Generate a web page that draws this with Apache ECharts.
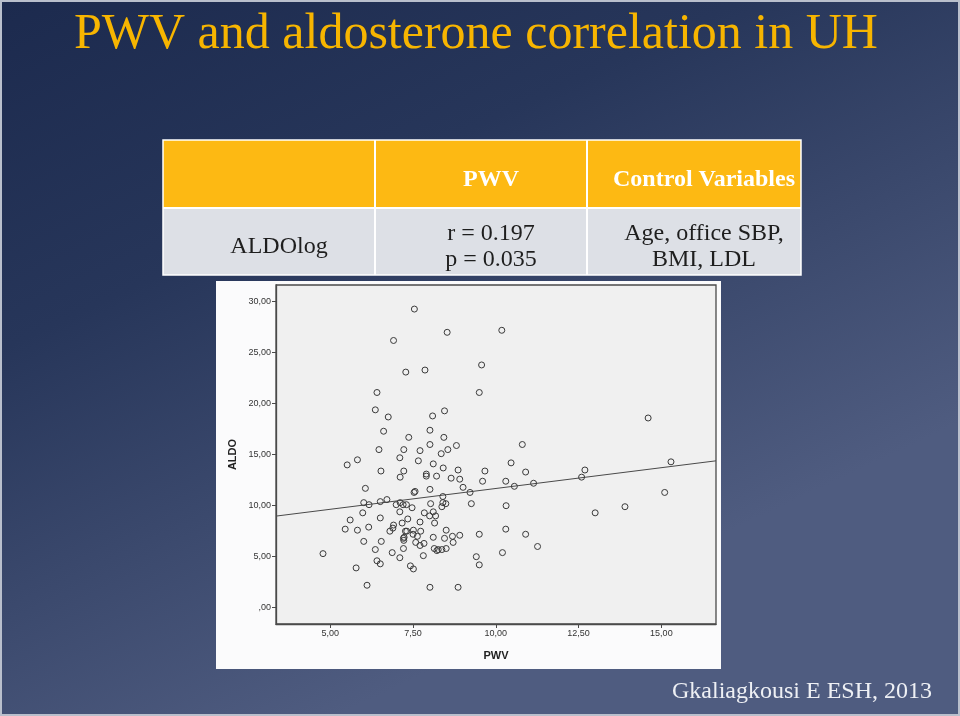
<!DOCTYPE html>
<html>
<head>
<meta charset="utf-8">
<script src="https://cdn.jsdelivr.net/npm/echarts@6/dist/echarts.min.js"></script>
<style>
html,body{margin:0;padding:0;background:#24345a;}
#chart{width:960px;height:716px;}
</style>
</head>
<body>
<div id="chart"></div>
<script>
// ---- data ----
var pwv = [7.54,8.53,10.18,6.91,7.28,7.86,9.57,6.41,9.50,6.36,6.75,8.09,8.45,14.60,8.01,6.61,7.37,8.43,8.01,8.81,
  10.80,6.47,7.22,7.71,8.55,8.35,5.51,5.82,7.10,7.66,8.11,10.46,15.29,6.53,7.22,8.41,8.86,9.67,10.90,12.69,
  7.11,7.90,7.90,8.21,8.65,8.91,9.60,10.30,12.59,11.14,10.56,9.01,6.06,8.01,7.53,7.56,9.22,15.10,8.40,6.01,
  6.17,6.51,6.71,6.99,7.11,7.20,7.30,8.03,8.40,8.49,9.26,10.31,8.37,13.90,7.47,5.98,7.10,7.84,8.11,8.00,
  8.18,13.00,5.60,6.51,7.34,7.17,7.71,8.15,6.91,6.89,6.80,5.45,5.82,6.16,7.27,7.31,7.51,7.73,8.50,10.30,
  7.23,7.21,7.50,7.63,8.11,8.45,8.69,8.91,9.50,10.90,7.22,6.01,6.54,7.58,7.71,7.83,8.71,11.26,6.36,7.21,
  8.14,8.22,8.26,8.37,8.50,4.78,6.87,7.81,7.10,9.41,10.20,6.41,6.51,9.50,7.42,7.51,5.78,6.11,8.01,8.86];
var aldo = [29.28,27.0,27.2,26.2,23.1,23.3,23.8,21.1,21.1,19.4,18.7,18.8,19.3,18.6,17.4,17.3,16.7,16.7,16.0,15.9,
  16.0,15.5,15.5,15.4,15.5,15.1,14.0,14.5,14.7,14.4,14.1,14.2,14.3,13.4,13.4,13.7,13.5,13.4,13.3,13.5,
  12.8,13.1,12.9,12.9,12.7,12.6,12.4,12.4,12.8,12.2,11.9,11.8,11.7,11.6,11.3,11.4,11.3,11.3,10.9,10.3,
  10.1,10.4,10.6,10.1,10.3,10.1,10.1,10.2,10.3,10.2,10.2,10.0,9.9,9.9,9.8,9.3,9.4,9.3,9.4,9.0,
  9.0,9.3,8.6,8.8,8.7,8.3,8.4,8.3,8.1,7.8,7.5,7.7,7.6,7.9,7.5,7.5,7.6,7.5,7.6,7.7,
  6.9,6.8,7.2,7.0,6.9,6.8,7.0,7.1,7.2,7.2,6.6,6.5,6.5,6.4,6.1,6.3,6.4,6.0,5.7,5.8,
  5.8,5.6,5.7,5.7,5.8,5.3,5.4,5.1,4.9,5.0,5.4,4.6,4.3,4.2,4.1,3.8,3.9,2.2,2.0,2.0];
var fitX = [3.36, 16.65];
var fitY = [8.98, 14.40];
var xTicks = [5, 7.5, 10, 12.5, 15];
var yTicks = [0, 5, 10, 15, 20, 25, 30];
var titleText = 'PWV and aldosterone correlation in UH';
var tableHeader = ['', 'PWV', 'Control Variables'];
var tableRow = ['ALDOlog', 'r = 0.197\np = 0.035', 'Age, office SBP,\nBMI, LDL'];
var footerText = 'Gkaliagkousi E ESH, 2013';

var points = pwv.map(function (x, i) { return [x, aldo[i]]; });
var fitLine = fitX.map(function (x, i) { return [x, fitY[i]]; });

function fmt(v) {
  var s = v.toFixed(2).replace('.', ',');
  return s.charAt(0) === '0' ? s.slice(1) : s;
}

var serif = '"Liberation Serif", "DejaVu Serif", serif';
var sans = '"Liberation Sans", Arial, sans-serif';

var colX = [163, 375, 587, 801];
var graphics = [
  { type: 'rect', z: -100, shape: { x: 0, y: 0, width: 960, height: 716 },
    style: { fill: { type: 'linear', x: 0, y: 0, x2: 0.35, y2: 1, colorStops: [
      { offset: 0, color: '#1c2a4e' }, { offset: 0.4, color: '#27365a' }, { offset: 1, color: '#4f5c80' }] } } },
  { type: 'rect', z: -99, shape: { x: 1, y: 1, width: 958, height: 714 },
    style: { fill: 'none', stroke: '#b9bfcc', lineWidth: 2 } },
  { type: 'text', z: 5, x: 74, y: 60,
    style: { text: titleText, font: '50px ' + serif, fill: '#f7b500', verticalAlign: 'bottom' } },
  // table
  { type: 'rect', z: -50, shape: { x: 163, y: 140, width: 638, height: 68 }, style: { fill: '#fdb913' } },
  { type: 'rect', z: -50, shape: { x: 163, y: 208, width: 638, height: 67 }, style: { fill: '#dde0e6' } },
  { type: 'line', z: -49, shape: { x1: 163, y1: 208, x2: 801, y2: 208 }, style: { stroke: '#ffffff', lineWidth: 2 } },
  { type: 'line', z: -49, shape: { x1: 375, y1: 140, x2: 375, y2: 275 }, style: { stroke: '#ffffff', lineWidth: 2 } },
  { type: 'line', z: -49, shape: { x1: 587, y1: 140, x2: 587, y2: 275 }, style: { stroke: '#ffffff', lineWidth: 2 } },
  { type: 'rect', z: -49, shape: { x: 163, y: 140, width: 638, height: 135 }, style: { fill: 'none', stroke: '#ffffff', lineWidth: 1.5 } },
  // scatter image background
  { type: 'rect', z: -40, shape: { x: 216, y: 281, width: 505, height: 388 }, style: { fill: '#fbfbfc' } },
  { type: 'text', z: 5, x: 672, y: 692,
    style: { text: footerText, font: '24px ' + serif, fill: '#eef0f4', verticalAlign: 'middle' } }
];
for (var c = 1; c < 3; c++) {
  graphics.push({ type: 'text', z: 5, x: (colX[c] + colX[c + 1]) / 2 + 10, y: 180,
    style: { text: tableHeader[c], font: 'bold 24px ' + serif, fill: '#ffffff', align: 'center', verticalAlign: 'middle' } });
}
for (var c2 = 0; c2 < 3; c2++) {
  graphics.push({ type: 'text', z: 5, x: (colX[c2] + colX[c2 + 1]) / 2 + 10, y: 247,
    style: { text: tableRow[c2], font: '24px ' + serif, fill: '#1e1e1e', align: 'center', verticalAlign: 'middle', lineHeight: 26 } });
}

var chart = echarts.init(document.getElementById('chart'), null, { renderer: 'canvas' });
chart.setOption({
  backgroundColor: 'transparent',
  animation: false,
  graphic: graphics,
  grid: { left: 276, top: 285, width: 440, height: 339, show: true,
    backgroundColor: '#f0f0f0', borderColor: '#4a4a4a', borderWidth: 1.3, containLabel: false },
  xAxis: {
    type: 'value', min: 3.36, max: 16.65,
    name: 'PWV', nameLocation: 'middle', nameGap: 26,
    nameTextStyle: { fontFamily: sans, fontWeight: 'bold', fontSize: 11, color: '#222' },
    axisLine: { show: true, onZero: false, lineStyle: { color: '#4a4a4a', width: 1.3 } },
    axisTick: { show: true, length: 4, inside: false, customValues: xTicks, lineStyle: { color: '#4a4a4a' } },
    axisLabel: { customValues: xTicks, formatter: fmt, fontFamily: sans, fontSize: 9, color: '#333', margin: 5 },
    splitLine: { show: false }
  },
  yAxis: {
    type: 'value', min: -1.6, max: 31.64,
    name: 'ALDO', nameLocation: 'middle', nameGap: 38, nameRotate: 90,
    nameTextStyle: { fontFamily: sans, fontWeight: 'bold', fontSize: 11, color: '#222' },
    axisLine: { show: true, onZero: false, lineStyle: { color: '#4a4a4a', width: 1.3 } },
    axisTick: { show: true, length: 4, inside: false, customValues: yTicks, lineStyle: { color: '#4a4a4a' } },
    axisLabel: { customValues: yTicks, formatter: fmt, fontFamily: sans, fontSize: 9, color: '#333', margin: 5 },
    splitLine: { show: false }
  },
  series: [
    { type: 'scatter', data: points, symbol: 'circle', symbolSize: 6,
      itemStyle: { color: 'rgba(240,240,240,0)', borderColor: '#3a3a3a', borderWidth: 1, opacity: 1 }, z: 3 },
    { type: 'line', data: fitLine, showSymbol: false, symbol: 'none',
      lineStyle: { color: '#4a4a4a', width: 1 }, z: 2 }
  ]
});
</script>
</body>
</html>
